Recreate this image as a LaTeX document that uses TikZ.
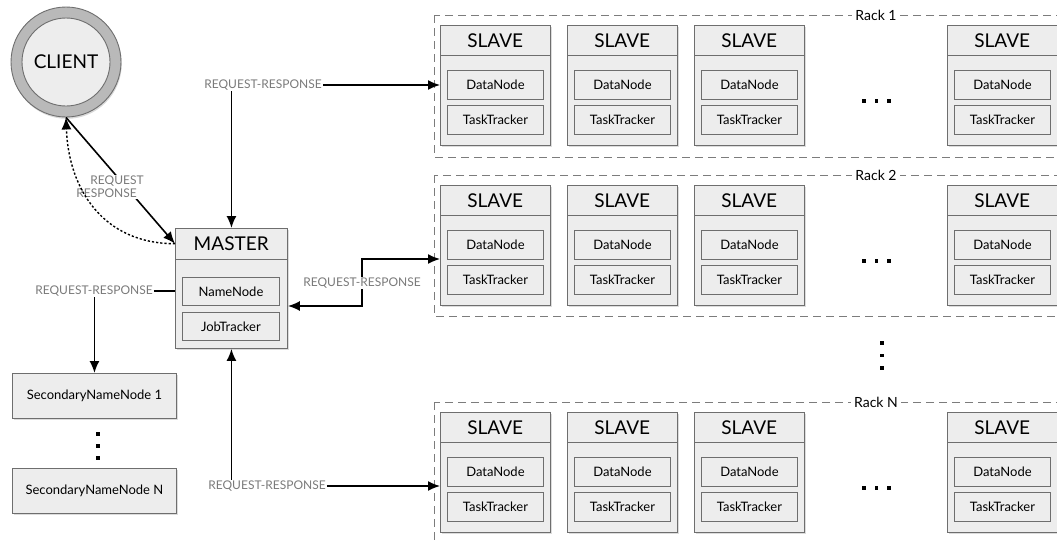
\documentclass[tikz,border=0pt]{standalone}
\usepackage{fontspec}
\setmainfont{Lato}
\usetikzlibrary{arrows.meta,shadows,calc}

\definecolor{boxfill}{HTML}{EDEDED}
\definecolor{boxline}{HTML}{6E6E6E}
\definecolor{ringfill}{HTML}{B9B9B9}
\definecolor{labelgray}{HTML}{7A7A7A}
\definecolor{rackline}{HTML}{7C7C7C}

\tikzset{
  shade/.style={drop shadow={shadow xshift=1.2pt,shadow yshift=-1.6pt,opacity=.28}},
  bodybox/.style={draw=boxline,fill=boxfill,line width=0.9pt,inner sep=0pt,
                  minimum width=110pt,minimum height=120pt,anchor=north west,shade},
  headbox/.style={inner sep=0pt,minimum width=110pt,minimum height=30pt,anchor=north west,
                  font=\fontsize{19}{22}\selectfont},
  innerbox/.style={draw=boxline,fill=boxfill,line width=0.9pt,inner sep=0pt,
                   minimum width=96pt,minimum height=29pt,anchor=north west,
                   font=\fontsize{13}{15}\selectfont},
  secbox/.style={draw=boxline,fill=boxfill,line width=0.9pt,inner sep=0pt,
                 minimum width=164pt,minimum height=45pt,anchor=north west,
                 font=\fontsize{13}{15}\selectfont,shade},
  rrlabel/.style={text=labelgray,font=\fontsize{12}{13}\selectfont,inner sep=1pt},
  rackbox/.style={draw=rackline,dash pattern=on 8pt off 5pt,line width=0.8pt},
  racklabel/.style={fill=white,inner sep=3pt,font=\fontsize{14}{16}\selectfont},
  conn/.style={line width=1.6pt,black},
  tip/.style={-{Latex[length=12pt,width=10pt]}},
}

% one slave machine: #1 name, #2 x, #3 y of its top left corner
\newcommand\slaveunit[3]{%
  \node[bodybox] (#1) at (#2,#3) {};
  \node[headbox] (#1-h) at (#2,#3) {SLAVE};
  \draw[draw=boxline,line width=0.9pt] ($(#2,#3)+(0,30)$) -- ++(110,0);
  \node[innerbox] (#1-dn) at ($(#2,#3)+(7,45)$) {DataNode};
  \node[innerbox] (#1-tt) at ($(#2,#3)+(7,80)$) {TaskTracker};
}

% three small square dots: in a row, or in a column, from (#1,#2) with step #3
\newcommand\hdots[3]{%
  \foreach \k in {0,1,2}{\fill ($(#1,#2)+(\k*#3-1.6,-1.6)$) rectangle ++(3.2,3.2);}%
}
\newcommand\coldots[3]{%
  \foreach \k in {0,1,2}{\fill ($(#1,#2)+(-1.6,\k*#3-1.6)$) rectangle ++(3.2,3.2);}%
}

\begin{document}
\begin{tikzpicture}[x=1pt,y=-1pt]
\useasboundingbox (0,0) rectangle (1057,542);
\clip (0,0) rectangle (1057,542);

% racks
\draw[rackbox] (434,15) rectangle (1075,157);
\draw[rackbox] (434,175) rectangle (1075,316);
\draw[rackbox] (434,402) rectangle (1075,570);
\node[racklabel] (r1) at (876,15) {Rack 1};
\node[racklabel] (r2) at (876,175) {Rack 2};
\node[racklabel] (rN) at (876,402) {Rack N};

% slaves
\foreach \r/\y in {1/25,2/185,N/412}{
  \slaveunit{s\r1}{440}{\y}
  \slaveunit{s\r2}{567}{\y}
  \slaveunit{s\r3}{694}{\y}
  \slaveunit{s\r4}{947}{\y}
  \hdots{864}{\y+76}{12.5}
}
\coldots{882}{343}{12.5}

% client
\node[circle,draw=boxline,fill=ringfill,line width=0.9pt,minimum size=110pt,inner sep=0pt,
      drop shadow={shadow xshift=0.8pt,shadow yshift=-1.8pt,opacity=.3}] (c) at (66,62) {};
\node[circle,draw=boxline,fill=boxfill,line width=0.9pt,minimum size=88pt,inner sep=0pt,
      font=\fontsize{19}{22}\selectfont] (ci) at (66,62) {CLIENT};

% master
\node[bodybox,minimum width=112pt] (m) at (175,228) {};
\node[headbox,minimum width=112pt,minimum height=31pt] (mh) at (175,228) {MASTER};
\draw[draw=boxline,line width=0.9pt] (mh.south west) -- (mh.south east);
\node[innerbox,minimum width=97pt,minimum height=28pt] (nn) at (182,277) {NameNode};
\node[innerbox,minimum width=97pt,minimum height=28pt] (jt) at (182,312) {JobTracker};

% secondary name nodes
\node[secbox] (sn1) at (12,373) {SecondaryNameNode 1};
\node[secbox] (snN) at (12,468) {SecondaryNameNode N};
\coldots{98}{434}{12}

% client <-> master: request line, label over it, dotted response curve
\draw[conn,tip] (c.south) -- (mh.west);
\node[rrlabel,fill=white,align=left] (lc) at (110,187) {\hspace*{14pt}REQUEST\\[0pt]RESPONSE};
\draw[conn,tip,dash pattern=on 2.2pt off 2pt,line width=1.4pt]
  (mh.west) to[out=180,in=-88,looseness=1.1] (c.south);

% master <-> rack 1
\node[rrlabel] (l1) at (263,85) {REQUEST-RESPONSE};
\draw[conn,tip] (l1.east) -- (s11.west |- l1);
\draw[conn,tip] (l1.south -| m.north) -- (m.north);

% master <-> rack 2
\coordinate (k1) at (362,306);
\coordinate (k2) at (362,259);
\draw[conn,{Latex[length=12pt,width=10pt]}-{Latex[length=12pt,width=10pt]}]
  (m.east |- k1) -- (k1) -- (k2) -- (s21.west |- k2);
\node[rrlabel,fill=white] (l2) at (362,283) {REQUEST-RESPONSE};

% master <-> secondary name node
\node[rrlabel] (l3) at (94,291) {REQUEST-RESPONSE};
\draw[conn] (l3.east) -- (m.west |- l3);
\draw[conn,tip] (l3.south -| sn1.north) -- (sn1.north);

% master <-> rack N
\node[rrlabel] (l4) at (267,486) {REQUEST-RESPONSE};
\draw[conn,tip] (l4.east) -- (sN1.west |- l4);
\draw[conn,tip] (l4.north -| m.south) -- (m.south);
\end{tikzpicture}
\end{document}
